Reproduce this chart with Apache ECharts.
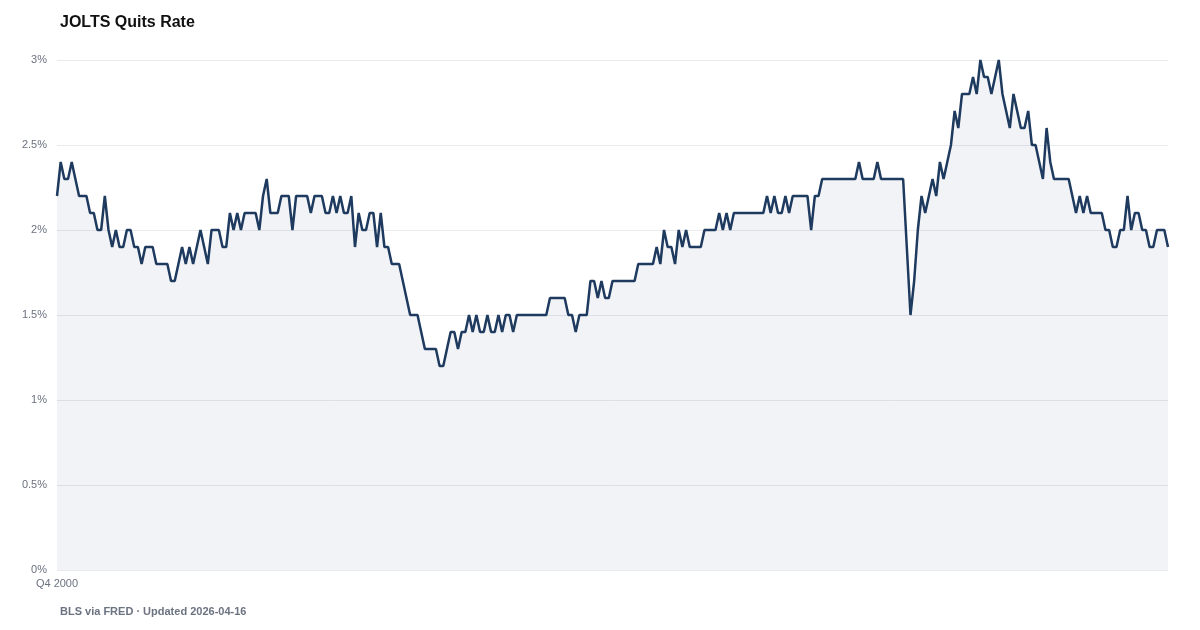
<!DOCTYPE html>
<html>
<head>
<meta charset="utf-8">
<script src="https://cdn.jsdelivr.net/npm/echarts@6/dist/echarts.min.js"></script>
<style>
html,body{margin:0;padding:0;background:#fff;}
#chart{width:1200px;height:630px;}
</style>
</head>
<body>
<div id="chart"></div>
<script>
// Monthly JOLTS quits rate (%), Dec 2000 .. Feb 2026
const startYear = 2000;
const startMonth = 12;
const quitsRate = [
2.2,2.4,2.3,2.3,2.4,2.3,2.2,2.2,2.2,2.1,
2.1,2.0,2.0,2.2,2.0,1.9,2.0,1.9,1.9,2.0,
2.0,1.9,1.9,1.8,1.9,1.9,1.9,1.8,1.8,1.8,
1.8,1.7,1.7,1.8,1.9,1.8,1.9,1.8,1.9,2.0,
1.9,1.8,2.0,2.0,2.0,1.9,1.9,2.1,2.0,2.1,
2.0,2.1,2.1,2.1,2.1,2.0,2.2,2.3,2.1,2.1,
2.1,2.2,2.2,2.2,2.0,2.2,2.2,2.2,2.2,2.1,
2.2,2.2,2.2,2.1,2.1,2.2,2.1,2.2,2.1,2.1,
2.2,1.9,2.1,2.0,2.0,2.1,2.1,1.9,2.1,1.9,
1.9,1.8,1.8,1.8,1.7,1.6,1.5,1.5,1.5,1.4,
1.3,1.3,1.3,1.3,1.2,1.2,1.3,1.4,1.4,1.3,
1.4,1.4,1.5,1.4,1.5,1.4,1.4,1.5,1.4,1.4,
1.5,1.4,1.5,1.5,1.4,1.5,1.5,1.5,1.5,1.5,
1.5,1.5,1.5,1.5,1.6,1.6,1.6,1.6,1.6,1.5,
1.5,1.4,1.5,1.5,1.5,1.7,1.7,1.6,1.7,1.6,
1.6,1.7,1.7,1.7,1.7,1.7,1.7,1.7,1.8,1.8,
1.8,1.8,1.8,1.9,1.8,2.0,1.9,1.9,1.8,2.0,
1.9,2.0,1.9,1.9,1.9,1.9,2.0,2.0,2.0,2.0,
2.1,2.0,2.1,2.0,2.1,2.1,2.1,2.1,2.1,2.1,
2.1,2.1,2.1,2.2,2.1,2.2,2.1,2.1,2.2,2.1,
2.2,2.2,2.2,2.2,2.2,2.0,2.2,2.2,2.3,2.3,
2.3,2.3,2.3,2.3,2.3,2.3,2.3,2.3,2.4,2.3,
2.3,2.3,2.3,2.4,2.3,2.3,2.3,2.3,2.3,2.3,
2.3,1.9,1.5,1.7,2.0,2.2,2.1,2.2,2.3,2.2,
2.4,2.3,2.4,2.5,2.7,2.6,2.8,2.8,2.8,2.9,
2.8,3.0,2.9,2.9,2.8,2.9,3.0,2.8,2.7,2.6,
2.8,2.7,2.6,2.6,2.7,2.5,2.5,2.4,2.3,2.6,
2.4,2.3,2.3,2.3,2.3,2.3,2.2,2.1,2.2,2.1,
2.2,2.1,2.1,2.1,2.1,2.0,2.0,1.9,1.9,2.0,
2.0,2.2,2.0,2.1,2.1,2.0,2.0,1.9,1.9,2.0,
2.0,2.0,1.9
];
const yTicks = [0, 0.5, 1, 1.5, 2, 2.5, 3];
const titleText = 'JOLTS Quits Rate';
const footerText = 'BLS via FRED · Updated 2026-04-16';

const months = quitsRate.map((_, i) => {
  const m0 = (startMonth - 1) + i;
  const y = startYear + Math.floor(m0 / 12);
  const m = (m0 % 12) + 1;
  return y + '-' + String(m).padStart(2, '0');
});

const font = '"Liberation Sans", Arial, Helvetica, sans-serif';
const chart = echarts.init(document.getElementById('chart'), null, {renderer: 'canvas'});
chart.setOption({
  animation: false,
  backgroundColor: '#ffffff',
  title: {
    text: titleText,
    left: 55, top: 10,
    textStyle: {fontFamily: font, fontSize: 16, fontWeight: 'bold', color: '#111111'}
  },
  graphic: [{
    type: 'text', left: 60, top: 606,
    style: {text: footerText, font: 'bold 11px ' + font, fill: '#6b7280'}
  }],
  grid: {left: 57, right: 32, top: 60, bottom: 60, containLabel: false},
  xAxis: {
    type: 'category',
    data: months,
    boundaryGap: false,
    axisLine: {show: false},
    axisTick: {show: false},
    splitLine: {show: false},
    axisLabel: {
      interval: (idx) => idx === 0,
      margin: 8,
      color: '#6b7280',
      fontFamily: font,
      fontSize: 11,
      formatter: (v) => {
        const p = v.split('-');
        return 'Q' + Math.ceil(parseInt(p[1], 10) / 3) + ' ' + p[0];
      }
    }
  },
  yAxis: {
    type: 'value',
    min: yTicks[0],
    max: yTicks[yTicks.length - 1],
    interval: yTicks[1] - yTicks[0],
    axisLine: {show: false},
    axisTick: {show: false},
    splitLine: {lineStyle: {color: '#e8eaed', width: 1}},
    axisLabel: {
      margin: 10,
      color: '#6b7280',
      fontFamily: font,
      fontSize: 11,
      formatter: (v) => v + '%'
    }
  },
  series: [{
    type: 'line',
    data: quitsRate,
    showSymbol: false,
    symbol: 'none',
    lineStyle: {color: '#1e3a5f', width: 2.5},
    areaStyle: {color: '#1e3a5f', opacity: 0.06},
    z: 3
  }]
});
</script>
</body>
</html>
